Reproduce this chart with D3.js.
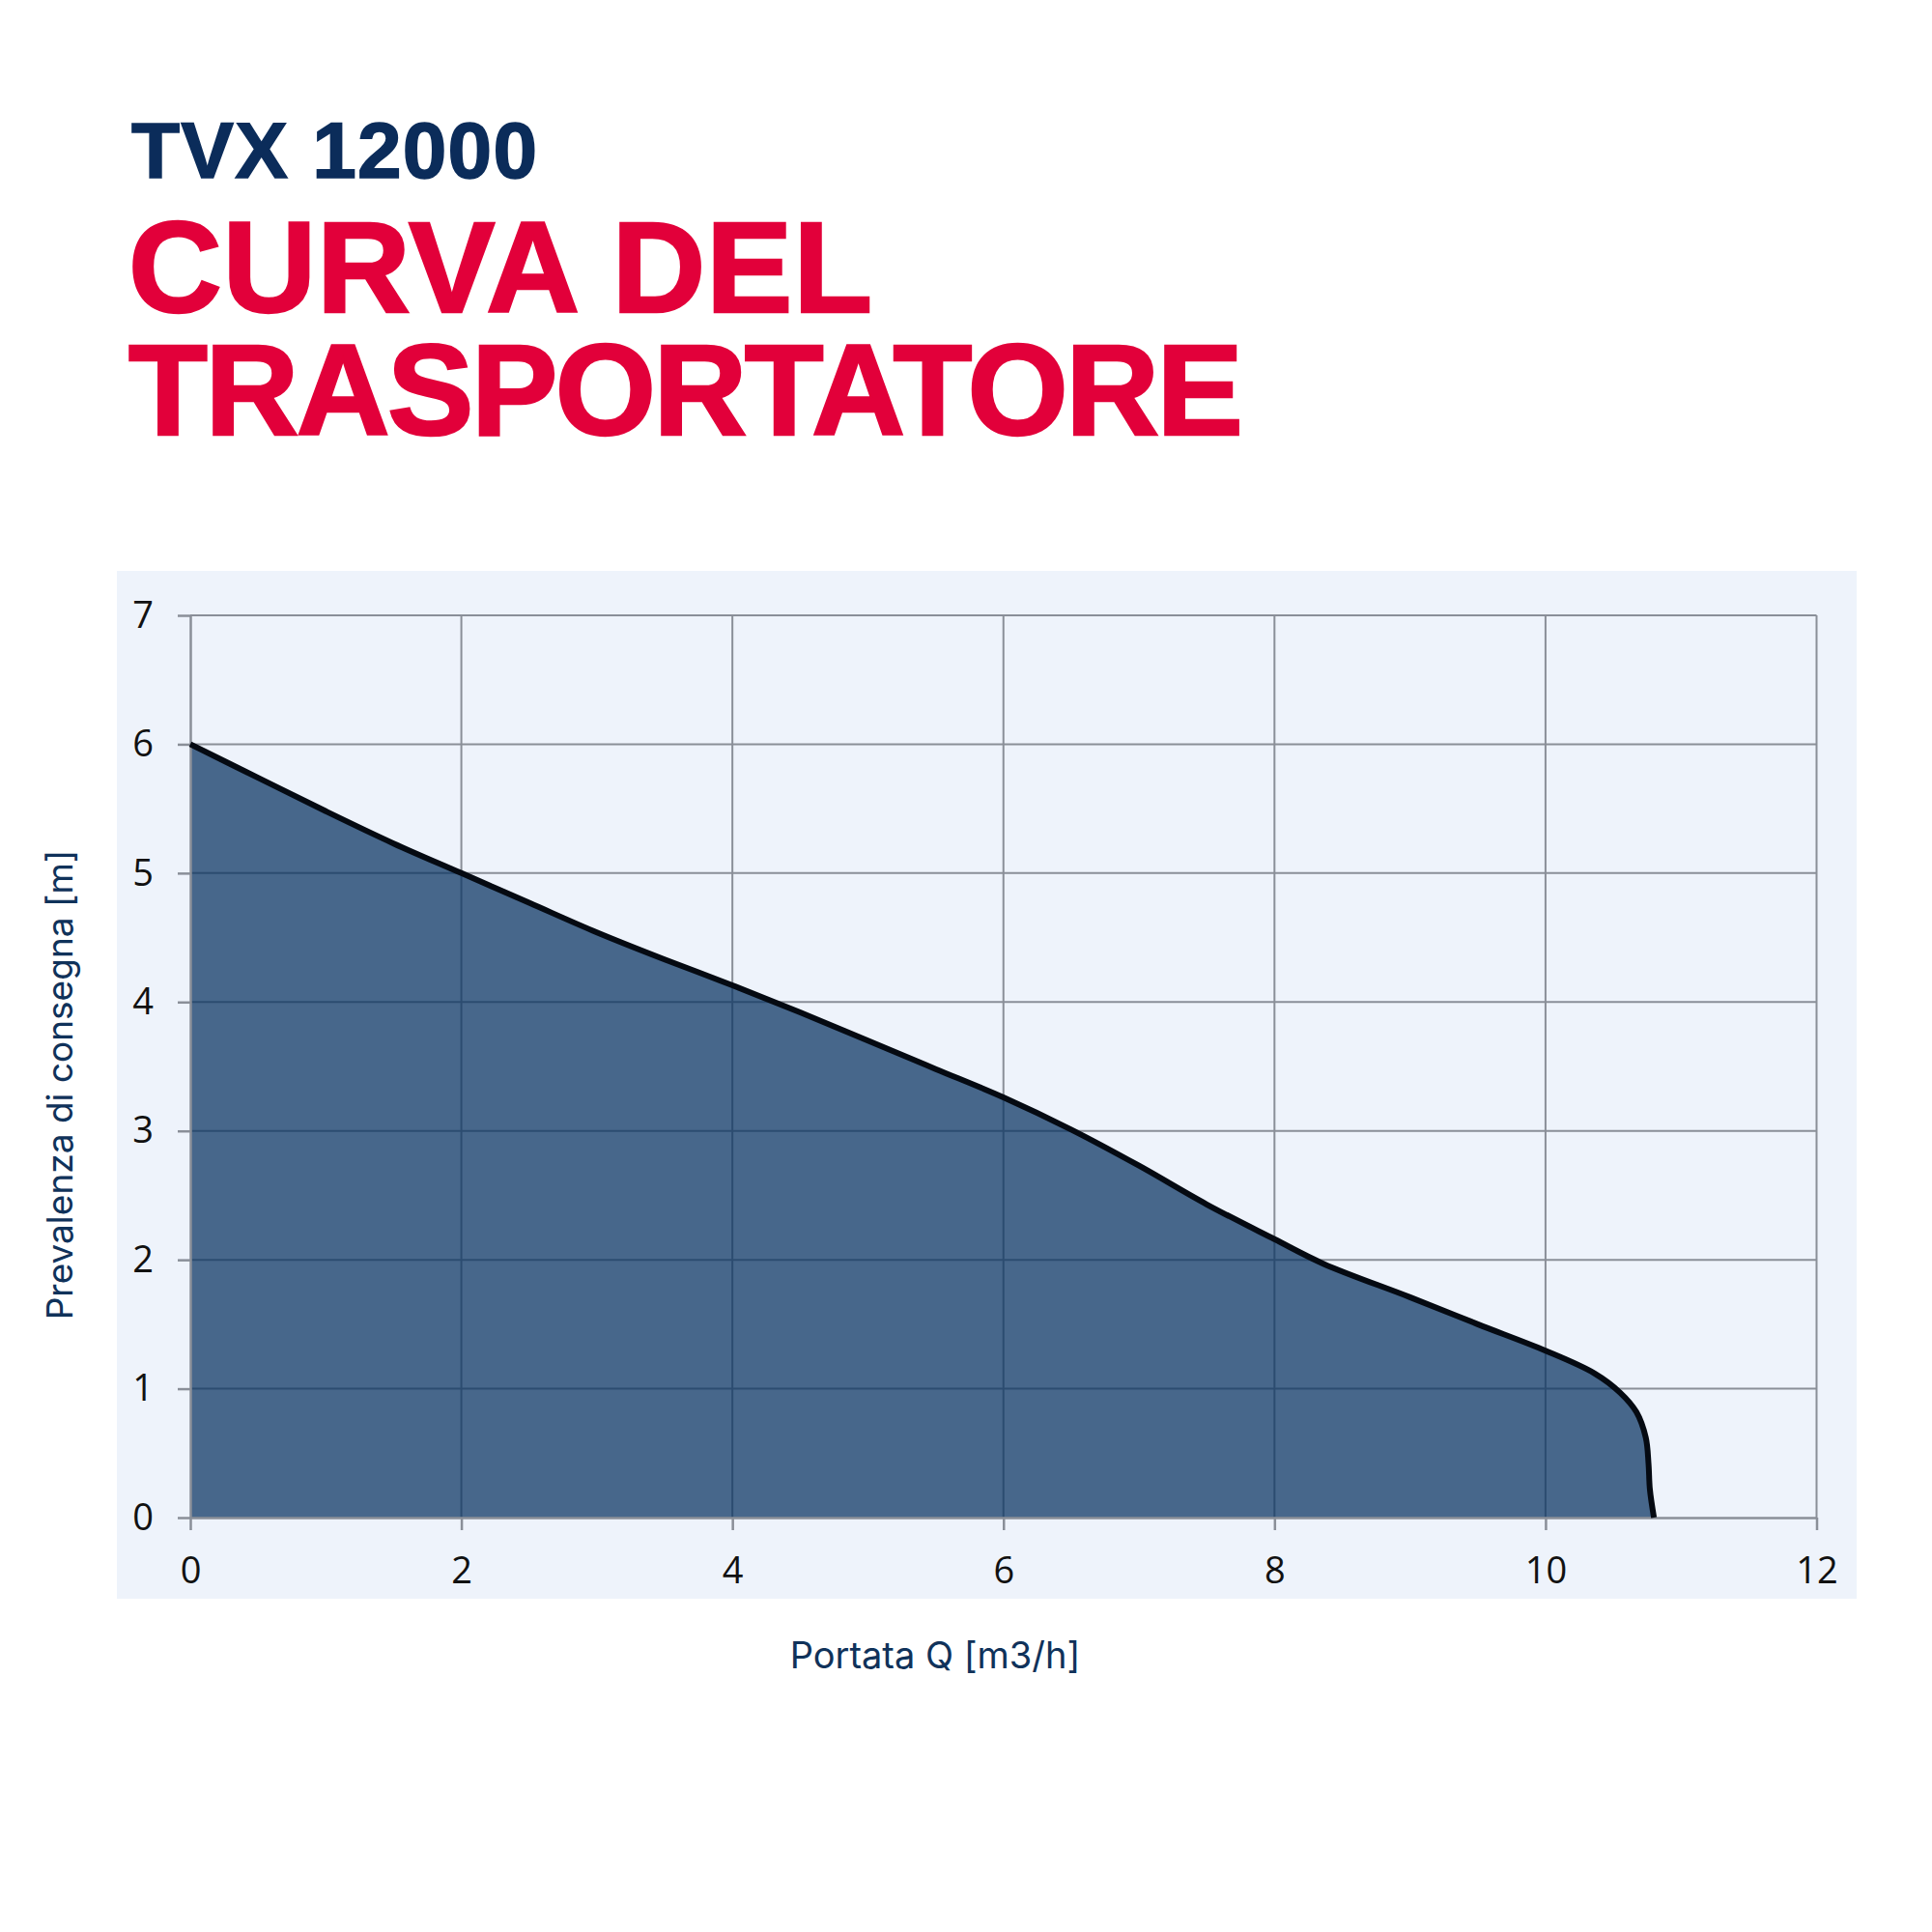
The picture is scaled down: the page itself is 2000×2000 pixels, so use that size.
<!DOCTYPE html>
<html>
<head>
<meta charset="utf-8">
<script src="https://cdn.jsdelivr.net/npm/d3@7"></script>
<style>
    html, body { margin: 0; padding: 0; background: #ffffff; }
    svg { display: block; }
</style>
</head>
<body>
<svg id="chart"></svg>
<script>
// pump curve
const flow = [0, 0.5, 1, 1.5, 2, 2.5, 3, 3.5, 4, 4.5, 5, 5.5, 6, 6.5, 7, 7.5, 8, 8.36, 9, 9.5, 10, 10.36, 10.55, 10.67, 10.74, 10.76, 10.77, 10.8];
const head = [6.0, 5.74, 5.48, 5.23, 5.0, 4.77, 4.54, 4.33, 4.13, 3.92, 3.70, 3.48, 3.26, 3.01, 2.73, 2.43, 2.16, 1.97, 1.71, 1.50, 1.295, 1.12, 0.97, 0.82, 0.62, 0.42, 0.22, 0];

const xTicks = [0, 2, 4, 6, 8, 10, 12];
const yTicks = [0, 1, 2, 3, 4, 5, 6, 7];

const modelName = "TVX 12000";
const titleLines = ["CURVA DEL", "TRASPORTATORE"];
const titleLengths = [770, 1154];
const xTitle = "Portata Q [m3/h]";
const yTitle = "Prevalenza di consegna [m]";

const width = 2000;
const height = 2000;
const margin = { top: 637, right: 2000 - 1880.5, bottom: 2000 - 1571, left: 197 };

const navy = "#0b2c5a";
const red = "#e2003a";

const svg = d3.select("#chart")
    .attr("width", width)
    .attr("height", height)
    .attr("viewBox", [0, 0, width, height]);

// titles (thin stroke to get the heavier weight of the original)
svg.append("text")
    .attr("x", 136)
    .attr("y", 184)
    .attr("font-family", "'Liberation Sans', Arial, sans-serif")
    .attr("font-weight", 700)
    .attr("font-size", 82)
    .attr("textLength", 420)
    .attr("lengthAdjust", "spacing")
    .attr("fill", navy)
    .attr("stroke", navy)
    .attr("stroke-width", 1.5)
    .text(modelName);

svg.selectAll("text.headline")
    .data(titleLines)
    .enter().append("text")
    .attr("class", "headline")
    .attr("x", 133)
    .attr("y", (d, i) => 323 + i * 127)
    .attr("font-family", "'Liberation Sans', Arial, sans-serif")
    .attr("font-weight", 700)
    .attr("font-size", 134)
    .attr("textLength", (d, i) => titleLengths[i])
    .attr("lengthAdjust", "spacing")
    .attr("fill", red)
    .attr("stroke", red)
    .attr("stroke-width", 2.5)
    .text(d => d);

// panel behind the chart
svg.append("rect")
    .attr("x", 121)
    .attr("y", 591)
    .attr("width", 1922 - 121)
    .attr("height", 1655 - 591)
    .attr("fill", "#eef3fb");

const xScale = d3.scaleLinear()
    .domain([0, 12])
    .range([margin.left, width - margin.right]);

const yScale = d3.scaleLinear()
    .domain([0, 7])
    .range([height - margin.bottom, margin.top]);

const grid = svg.append("g")
    .attr("stroke", "#8a8f98")
    .attr("stroke-width", 2);

grid.selectAll("line.h")
    .data(yTicks.filter(d => d > 0))
    .enter().append("line")
    .attr("class", "h")
    .attr("x1", xScale(0))
    .attr("x2", xScale(12))
    .attr("y1", d => yScale(d))
    .attr("y2", d => yScale(d));

grid.selectAll("line.v")
    .data(xTicks.filter(d => d > 0))
    .enter().append("line")
    .attr("class", "v")
    .attr("x1", d => xScale(d))
    .attr("x2", d => xScale(d))
    .attr("y1", yScale(0))
    .attr("y2", yScale(7));

const points = flow.map((q, i) => [q, head[i]]);
const curve = d3.curveCatmullRom.alpha(0.5);

// translucent fill so the grid shows through darker
svg.append("path")
    .datum(points)
    .attr("fill", "#0a3462")
    .attr("fill-opacity", 0.735)
    .attr("d", d3.area()
        .curve(curve)
        .x(d => xScale(d[0]))
        .y0(yScale(0))
        .y1(d => yScale(d[1])));

const tickFont = "'Open Sans', 'Noto Sans', sans-serif";

const xAxis = svg.append("g")
    .attr("transform", `translate(0,${yScale(0)})`)
    .call(d3.axisBottom(xScale).tickValues(xTicks).tickFormat(d3.format("d"))
        .tickSize(13).tickSizeOuter(0).tickPadding(28));

const yAxis = svg.append("g")
    .attr("transform", `translate(${xScale(0)},0)`)
    .call(d3.axisLeft(yScale).tickValues(yTicks).tickFormat(d3.format("d"))
        .tickSize(13).tickSizeOuter(0).tickPadding(25));

[xAxis, yAxis].forEach(ax => {
    ax.select(".domain").attr("stroke", "#8a8f98").attr("stroke-width", 2.5);
    ax.selectAll(".tick line").attr("stroke", "#8a8f98").attr("stroke-width", 2.5);
    ax.selectAll(".tick text")
        .attr("font-family", tickFont)
        .attr("font-size", 38)
        .attr("fill", "#111111");
});

svg.append("path")
    .datum(points)
    .attr("fill", "none")
    .attr("stroke", "#050a12")
    .attr("stroke-width", 6)
    .attr("stroke-linejoin", "round")
    .attr("d", d3.line()
        .curve(curve)
        .x(d => xScale(d[0]))
        .y(d => yScale(d[1])));

// axis titles
const titleFont = "Inter, 'Noto Sans', sans-serif";

svg.append("text")
    .attr("x", 968)
    .attr("y", 1727)
    .attr("text-anchor", "middle")
    .attr("font-family", titleFont)
    .attr("font-size", 38)
    .attr("fill", "#10325a")
    .text(xTitle);

svg.append("text")
    .attr("transform", "translate(75,1123) rotate(-90)")
    .attr("text-anchor", "middle")
    .attr("font-family", titleFont)
    .attr("font-size", 37)
    .attr("fill", "#10325a")
    .text(yTitle);
</script>
</body>
</html>
